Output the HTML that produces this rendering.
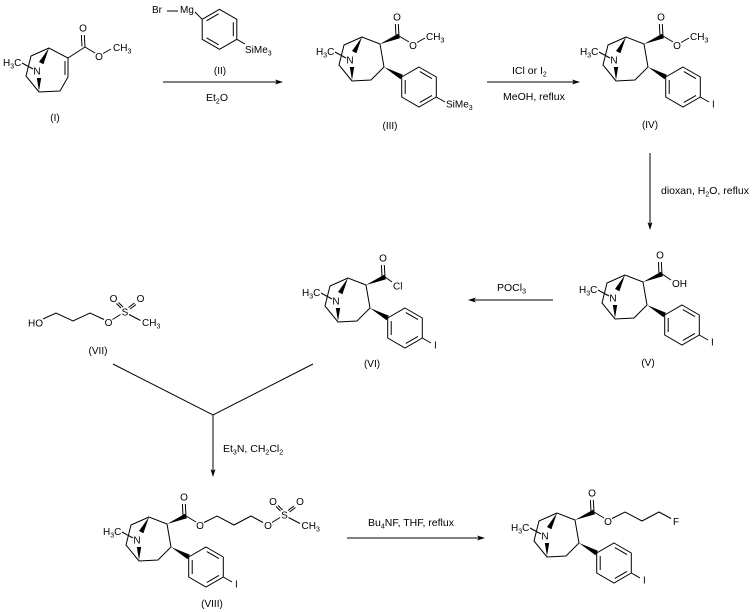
<!DOCTYPE html>
<html>
<head>
<meta charset="utf-8">
<style>
html,body{margin:0;padding:0;background:#fff;}
svg{display:block;}
svg path, svg polygon{stroke:#000;stroke-width:1;fill:none;}
svg .f{fill:#000;stroke:none;}
svg text{font-family:"Liberation Sans",Arial,sans-serif;font-size:10px;fill:#000;}
svg .r{font-size:10.5px;}
svg .s{font-size:7px;}
</style>
</head>
<body>
<svg width="752" height="612" viewBox="0 0 752 612" xmlns="http://www.w3.org/2000/svg">
<rect width="752" height="612" fill="#fff"/>

<!-- Compound I -->
<g transform="translate(49,48)">
  <path d="M0,0 L-18,8 L-23,28 L-10,44 L11,43 L19,29 L19,10 Z M-27,15 L-16,21 M16,13 L16,27 M19,10 L36,-1"/>
  <polygon class="f" points="0,0 -10,14 -5.6,16.3"/>
  <polygon class="f" points="-10,43 -12.2,30 -7.8,30"/>
  <text x="-46" y="18">H<tspan class="s" dy="2.5">3</tspan><tspan dy="-2.5">C</tspan></text>
  <text x="-12" y="26.5" text-anchor="middle">N</text>
  <path d="M36,-1 L35.3,-13 M33,-1.5 L32.4,-13"/>
  <text x="34" y="-16.5" text-anchor="middle">O</text>
  <path d="M36,-1 L46,5"/>
  <text x="50" y="12" text-anchor="middle">O</text>
  <path d="M54,5.5 L62,1"/>
  <text x="64" y="3">CH<tspan class="s" dy="2.5">3</tspan></text>
</g>
<text x="55" y="121" text-anchor="middle">(I)</text>

<!-- Grignard (II) -->
<text x="152" y="13">Br</text>
<path d="M167,11 H178"/>
<text x="180" y="13">Mg</text>
<path d="M195,12 L202.2,19.3"/>
<polygon points="219.5,9.3 236.8,19.3 236.8,39.3 219.5,49.3 202.2,39.3 202.2,19.3"/>
<path d="M206.55,20.83 L218.65,13.83 M233.3,22.3 L233.3,36.3 M206.55,37.77 L218.65,44.77 M236.8,39.3 L245,44"/>
<text x="245" y="53">SiMe<tspan class="s" dy="2.5">3</tspan></text>
<text x="220" y="74" text-anchor="middle">(II)</text>

<!-- Arrow 1 -->
<path d="M163,82 H277"/>
<polygon class="f" points="283,82 275,79.5 277,82 275,84.5"/>
<text class="r" x="217" y="101" text-anchor="middle">Et<tspan class="s" dy="2.5">2</tspan><tspan dy="-2.5">O</tspan></text>

<!-- Compound III -->
<g transform="translate(362,37)">
  <path d="M0,0 L-18,8 L-23,28 L-10,44 L9,43 L22,30 L18,7 Z M-27,15 L-16,21"/>
  <polygon class="f" points="0,0 -10,14 -5.6,16.3"/>
  <polygon class="f" points="-10,43 -12.2,30 -7.8,30"/>
  <text x="-46" y="18">H<tspan class="s" dy="2.5">3</tspan><tspan dy="-2.5">C</tspan></text>
  <text x="-12" y="26.5" text-anchor="middle">N</text>
  <polygon class="f" points="18,7 38,1.3 36,-3.3"/>
  <path d="M37,-1 L36.3,-13 M34,-1.5 L33.4,-13"/>
  <text x="35" y="-16.5" text-anchor="middle">O</text>
  <polygon class="f" points="22,30 38.5,42.2 40.9,37.8"/>
  <polygon points="57,30 74.3,40 74.3,60 57,70 39.7,60 39.7,40"/>
  <path d="M57.85,34.53 L69.95,41.53 M43.2,43 L43.2,57 M57.85,65.47 L69.95,58.47 M74.3,60 L83,65"/>
  <path d="M37,-1 L47,5"/>
  <text x="51" y="12" text-anchor="middle">O</text>
  <path d="M55,5.5 L63,1"/>
  <text x="64" y="3">CH<tspan class="s" dy="2.5">3</tspan></text>
  <text x="84" y="70.5">SiMe<tspan class="s" dy="2.5">3</tspan></text>
</g>
<text x="390" y="129" text-anchor="middle">(III)</text>

<!-- Arrow 2 -->
<path d="M487,82 H574"/>
<polygon class="f" points="580,82 572,79.5 574,82 572,84.5"/>
<text class="r" x="512" y="74">ICl or I<tspan class="s" dy="2.5">2</tspan></text>
<text class="r" x="503" y="100">MeOH, reflux</text>

<!-- Compound IV -->
<g transform="translate(626,37)">
  <path d="M0,0 L-18,8 L-23,28 L-10,44 L9,43 L22,30 L18,7 Z M-27,15 L-16,21"/>
  <polygon class="f" points="0,0 -10,14 -5.6,16.3"/>
  <polygon class="f" points="-10,43 -12.2,30 -7.8,30"/>
  <text x="-46" y="18">H<tspan class="s" dy="2.5">3</tspan><tspan dy="-2.5">C</tspan></text>
  <text x="-12" y="26.5" text-anchor="middle">N</text>
  <polygon class="f" points="18,7 38,1.3 36,-3.3"/>
  <path d="M37,-1 L36.3,-13 M34,-1.5 L33.4,-13"/>
  <text x="35" y="-16.5" text-anchor="middle">O</text>
  <polygon class="f" points="22,30 38.5,42.2 40.9,37.8"/>
  <polygon points="57,30 74.3,40 74.3,60 57,70 39.7,60 39.7,40"/>
  <path d="M57.85,34.53 L69.95,41.53 M43.2,43 L43.2,57 M57.85,65.47 L69.95,58.47 M74.3,60 L83,65"/>
  <path d="M37,-1 L47,5"/>
  <text x="51" y="12" text-anchor="middle">O</text>
  <path d="M55,5.5 L63,1"/>
  <text x="64" y="3">CH<tspan class="s" dy="2.5">3</tspan></text>
  <text x="86" y="70.5">I</text>
</g>
<text x="650" y="128" text-anchor="middle">(IV)</text>

<!-- Arrow 3 -->
<path d="M650,153 V224"/>
<polygon class="f" points="650,230 647.5,222 650,224 652.5,222"/>
<text class="r" x="661" y="194">dioxan, H<tspan class="s" dy="2.5">2</tspan><tspan dy="-2.5">O, reflux</tspan></text>

<!-- Compound V -->
<g transform="translate(625,275)">
  <path d="M0,0 L-18,8 L-23,28 L-10,44 L9,43 L22,30 L18,7 Z M-27,15 L-16,21"/>
  <polygon class="f" points="0,0 -10,14 -5.6,16.3"/>
  <polygon class="f" points="-10,43 -12.2,30 -7.8,30"/>
  <text x="-46" y="18">H<tspan class="s" dy="2.5">3</tspan><tspan dy="-2.5">C</tspan></text>
  <text x="-12" y="26.5" text-anchor="middle">N</text>
  <polygon class="f" points="18,7 38,1.3 36,-3.3"/>
  <path d="M37,-1 L36.3,-13 M34,-1.5 L33.4,-13"/>
  <text x="35" y="-16.5" text-anchor="middle">O</text>
  <polygon class="f" points="22,30 38.5,42.2 40.9,37.8"/>
  <polygon points="57,30 74.3,40 74.3,60 57,70 39.7,60 39.7,40"/>
  <path d="M57.85,34.53 L69.95,41.53 M43.2,43 L43.2,57 M57.85,65.47 L69.95,58.47 M74.3,60 L83,65"/>
  <path d="M37,-1 L46,5"/>
  <text x="47" y="12">OH</text>
  <text x="86" y="70.5">I</text>
</g>
<text x="648" y="366" text-anchor="middle">(V)</text>

<!-- Arrow 4 (POCl3) -->
<path d="M553,300 H474"/>
<polygon class="f" points="468,300 476,297.5 474,300 476,302.5"/>
<text class="r" x="497" y="291">POCl<tspan class="s" dy="2.5">3</tspan></text>

<!-- Compound VI -->
<g transform="translate(348,278)">
  <path d="M0,0 L-18,8 L-23,28 L-10,44 L9,43 L22,30 L18,7 Z M-27,15 L-16,21"/>
  <polygon class="f" points="0,0 -10,14 -5.6,16.3"/>
  <polygon class="f" points="-10,43 -12.2,30 -7.8,30"/>
  <text x="-46" y="18">H<tspan class="s" dy="2.5">3</tspan><tspan dy="-2.5">C</tspan></text>
  <text x="-12" y="26.5" text-anchor="middle">N</text>
  <polygon class="f" points="18,7 38,1.3 36,-3.3"/>
  <path d="M37,-1 L36.3,-13 M34,-1.5 L33.4,-13"/>
  <text x="35" y="-16.5" text-anchor="middle">O</text>
  <polygon class="f" points="22,30 38.5,42.2 40.9,37.8"/>
  <polygon points="57,30 74.3,40 74.3,60 57,70 39.7,60 39.7,40"/>
  <path d="M57.85,34.53 L69.95,41.53 M43.2,43 L43.2,57 M57.85,65.47 L69.95,58.47 M74.3,60 L83,65"/>
  <path d="M37,-1 L44,4"/>
  <text x="45" y="11.5">Cl</text>
  <text x="86" y="70.5">I</text>
</g>
<text x="372" y="367" text-anchor="middle">(VI)</text>

<!-- Compound VII -->
<text x="28" y="326.5">HO</text>
<path d="M43,319 L56,313 L73,321 L90,313 L104,319.5"/>
<g transform="translate(108.5,322.5)">
  <text x="0" y="3.5" text-anchor="middle">O</text>
  <path d="M4,-3 L12,-8"/>
  <text x="16.5" y="-7" text-anchor="middle">S</text>
  <text x="5" y="-20.5" text-anchor="middle">O</text>
  <text x="32" y="-20.5" text-anchor="middle">O</text>
  <path d="M12.5,-14.5 L8,-19 M14.5,-15.5 L10,-20 M20,-15 L26,-19.5 M21.5,-13.5 L27.5,-18 M20.5,-8 L32,-2"/>
  <text x="33.5" y="3.5">CH<tspan class="s" dy="2.5">3</tspan></text>
</g>
<text x="98" y="354" text-anchor="middle">(VII)</text>

<!-- Y connector -->
<path d="M113,364 L213,415 L313,364 M213,415 V471"/>
<polygon class="f" points="213,477 210.5,469 213,471 215.5,469"/>
<text class="r" x="223" y="452">Et<tspan class="s" dy="2.5">3</tspan><tspan dy="-2.5">N, CH</tspan><tspan class="s" dy="2.5">2</tspan><tspan dy="-2.5">Cl</tspan><tspan class="s" dy="2.5">2</tspan></text>

<!-- Compound VIII -->
<g transform="translate(149,517)">
  <path d="M0,0 L-18,8 L-23,28 L-10,44 L9,43 L22,30 L18,7 Z M-27,15 L-16,21"/>
  <polygon class="f" points="0,0 -10,14 -5.6,16.3"/>
  <polygon class="f" points="-10,43 -12.2,30 -7.8,30"/>
  <text x="-46" y="18">H<tspan class="s" dy="2.5">3</tspan><tspan dy="-2.5">C</tspan></text>
  <text x="-12" y="26.5" text-anchor="middle">N</text>
  <polygon class="f" points="18,7 38,1.3 36,-3.3"/>
  <path d="M37,-1 L36.3,-13 M34,-1.5 L33.4,-13"/>
  <text x="35" y="-16.5" text-anchor="middle">O</text>
  <polygon class="f" points="22,30 38.5,42.2 40.9,37.8"/>
  <polygon points="57,30 74.3,40 74.3,60 57,70 39.7,60 39.7,40"/>
  <path d="M57.85,34.53 L69.95,41.53 M43.2,43 L43.2,57 M57.85,65.47 L69.95,58.47 M74.3,60 L83,65"/>
  <path d="M37,-1 L47,5"/>
  <text x="51" y="12" text-anchor="middle">O</text>
  <path d="M55,5.5 L68,-1 L85,8 L102,-1 L114,5.5"/>
  <text x="86" y="70.5">I</text>
</g>
<g transform="translate(268,525.5)">
  <text x="0" y="3.5" text-anchor="middle">O</text>
  <path d="M4,-3 L12,-8"/>
  <text x="16.5" y="-7" text-anchor="middle">S</text>
  <text x="5" y="-20.5" text-anchor="middle">O</text>
  <text x="32" y="-20.5" text-anchor="middle">O</text>
  <path d="M12.5,-14.5 L8,-19 M14.5,-15.5 L10,-20 M20,-15 L26,-19.5 M21.5,-13.5 L27.5,-18 M20.5,-8 L32,-2"/>
  <text x="33.5" y="3.5">CH<tspan class="s" dy="2.5">3</tspan></text>
</g>
<text x="212" y="607" text-anchor="middle">(VIII)</text>

<!-- Arrow 6 -->
<path d="M347,538 H479"/>
<polygon class="f" points="485,538 477,535.5 479,538 477,540.5"/>
<text class="r" x="368" y="526">Bu<tspan class="s" dy="2.5">4</tspan><tspan dy="-2.5">NF, THF, reflux</tspan></text>

<!-- Final compound -->
<g transform="translate(557,513)">
  <path d="M0,0 L-18,8 L-23,28 L-10,44 L9,43 L22,30 L18,7 Z M-27,15 L-16,21"/>
  <polygon class="f" points="0,0 -10,14 -5.6,16.3"/>
  <polygon class="f" points="-10,43 -12.2,30 -7.8,30"/>
  <text x="-46" y="18">H<tspan class="s" dy="2.5">3</tspan><tspan dy="-2.5">C</tspan></text>
  <text x="-12" y="26.5" text-anchor="middle">N</text>
  <polygon class="f" points="18,7 38,1.3 36,-3.3"/>
  <path d="M37,-1 L36.3,-13 M34,-1.5 L33.4,-13"/>
  <text x="35" y="-16.5" text-anchor="middle">O</text>
  <polygon class="f" points="22,30 38.5,42.2 40.9,37.8"/>
  <polygon points="57,30 74.3,40 74.3,60 57,70 39.7,60 39.7,40"/>
  <path d="M57.85,34.53 L69.95,41.53 M43.2,43 L43.2,57 M57.85,65.47 L69.95,58.47 M74.3,60 L83,65"/>
  <path d="M37,-1 L47,5"/>
  <text x="51" y="12" text-anchor="middle">O</text>
  <path d="M55,5.5 L68,-1 L85,8 L102,-1 L114,5.5"/>
  <text x="119" y="12" text-anchor="middle">F</text>
  <text x="86" y="70.5">I</text>
</g>
</svg>
</body>
</html>
